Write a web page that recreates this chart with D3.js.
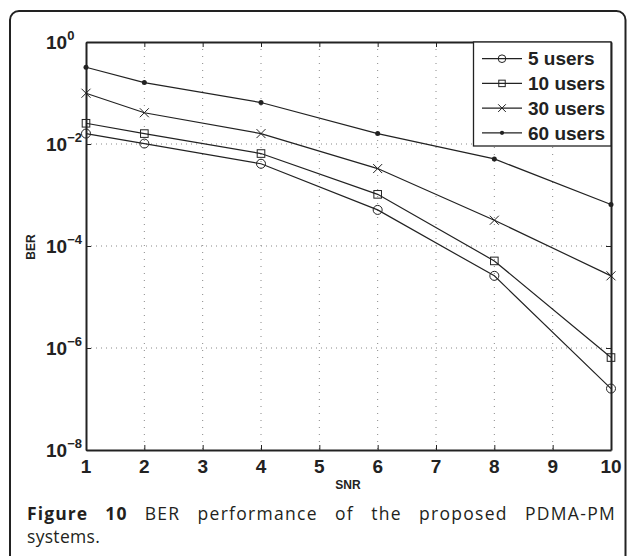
<!DOCTYPE html>
<html>
<head>
<meta charset="utf-8">
<script src="https://cdn.jsdelivr.net/npm/d3@7"></script>
<style>
  html, body { margin: 0; padding: 0; background: #fff; }
  svg { display: block; }
</style>
</head>
<body>
<svg id="chart" width="627" height="556"></svg>
<script>
// ---- data ----
const snr = [1, 2, 4, 6, 8, 10];
const seriesNames = ["5 users", "10 users", "30 users", "60 users"];
const markers = ["circle", "square", "cross", "dot"];
const ber5  = [0.016, 0.0102, 0.0041, 5.1e-4, 2.6e-5, 1.6e-7];
const ber10 = [0.0255, 0.016, 0.0065, 1.03e-3, 5.1e-5, 6.5e-7];
const ber30 = [0.099, 0.041, 0.016, 3.3e-3, 3.2e-4, 2.6e-5];
const ber60 = [0.32, 0.16, 0.065, 0.016, 5.1e-3, 6.5e-4];
const xTicks = [1, 2, 3, 4, 5, 6, 7, 8, 9, 10];
const yTickExps = [0, -2, -4, -6, -8];
const captionBold = ["Figure", "10"];
const captionLine1 = ["BER", "performance", "of", "the", "proposed", "PDMA-PM"];
const captionLine2 = "systems.";

const allSeries = [ber5, ber10, ber30, ber60];
const ink = "#222";

const svg = d3.select("#chart");
const m = { left: 86, right: 611, top: 42, bottom: 450 };

const x = d3.scaleLinear().domain([1, 10]).range([m.left, m.right]);
const y = d3.scaleLog().domain([1e-8, 1]).range([m.bottom, m.top]);

// card border
svg.append("rect").attr("x", 10).attr("y", 11).attr("width", 615.5).attr("height", 620)
  .attr("rx", 9).attr("fill", "none").attr("stroke", ink).attr("stroke-width", 2);

// grid
const grid = svg.append("g");
grid.selectAll("line.vx").data(xTicks.slice(1, -1)).join("line")
  .attr("x1", d => x(d)).attr("x2", d => x(d)).attr("y1", m.top).attr("y2", m.bottom)
  .attr("stroke", "#888").attr("stroke-width", 1).attr("stroke-dasharray", "1,6");
grid.selectAll("line.hy").data(yTickExps.slice(1, -1)).join("line")
  .attr("x1", m.left).attr("x2", m.right).attr("y1", d => y(Math.pow(10, d))).attr("y2", d => y(Math.pow(10, d)))
  .attr("stroke", "#888").attr("stroke-width", 1).attr("stroke-dasharray", "1,4");

// axes via d3 axis (inward ticks)
const xAxisB = d3.axisBottom(x).tickValues(xTicks).tickSizeInner(-5).tickSizeOuter(0).tickFormat("");
const xAxisT = d3.axisTop(x).tickValues(xTicks).tickSizeInner(-5).tickSizeOuter(0).tickFormat("");
const yVals = yTickExps.map(e => Math.pow(10, e));
const yAxisL = d3.axisLeft(y).tickValues(yVals).tickSizeInner(-5).tickSizeOuter(0).tickFormat("");
const yAxisR = d3.axisRight(y).tickValues(yVals).tickSizeInner(-5).tickSizeOuter(0).tickFormat("");
function styleAxis(g) {
  g.selectAll("path.domain").attr("stroke", ink).attr("stroke-width", 2);
  g.selectAll(".tick line").attr("stroke", ink).attr("stroke-width", 1);
}
svg.append("g").attr("transform", `translate(0,${m.bottom})`).call(xAxisB).call(styleAxis);
svg.append("g").attr("transform", `translate(0,${m.top})`).call(xAxisT).call(styleAxis);
svg.append("g").attr("transform", `translate(${m.left},0)`).call(yAxisL).call(styleAxis);
svg.append("g").attr("transform", `translate(${m.right},0)`).call(yAxisR).call(styleAxis);

// x tick labels
svg.append("g").selectAll("text").data(xTicks).join("text")
  .attr("x", d => x(d)).attr("y", 473).attr("text-anchor", "middle")
  .attr("font-family", "Liberation Sans, Arial, sans-serif").attr("font-weight", "bold")
  .attr("font-size", 19).attr("fill", ink).text(d => d);

// y tick labels 10^e
const yl = svg.append("g").selectAll("text").data(yTickExps).join("text")
  .attr("x", 46).attr("y", d => y(Math.pow(10, d)) + 7)
  .attr("font-family", "Liberation Sans, Arial, sans-serif").attr("font-weight", "bold")
  .attr("font-size", 19).attr("fill", ink);
yl.append("tspan").text("10");
yl.append("tspan").attr("dy", -9).attr("font-size", 13).text(d => d === 0 ? "0" : "\u2212" + Math.abs(d));

// axis titles
svg.append("text").attr("x", 348).attr("y", 489).attr("text-anchor", "middle")
  .attr("font-family", "Liberation Sans, Arial, sans-serif").attr("font-weight", "bold")
  .attr("font-size", 12).attr("fill", ink).text("SNR");
svg.append("text").attr("transform", "translate(35,247) rotate(-90)").attr("text-anchor", "middle")
  .attr("font-family", "Liberation Sans, Arial, sans-serif").attr("font-weight", "bold")
  .attr("font-size", 12).attr("fill", ink).text("BER");

// marker drawing
function drawMarker(g, type, cx, cy, s) {
  if (type === "circle") {
    g.append("circle").attr("cx", cx).attr("cy", cy).attr("r", 4.5 * s)
      .attr("fill", "none").attr("stroke", ink).attr("stroke-width", 1);
  } else if (type === "square") {
    const h = 3.8 * s;
    g.append("rect").attr("x", cx - h).attr("y", cy - h).attr("width", 2 * h).attr("height", 2 * h)
      .attr("fill", "none").attr("stroke", ink).attr("stroke-width", 1);
  } else if (type === "cross") {
    const h = 4.5 * s;
    g.append("path").attr("d", `M${cx - h},${cy - h}L${cx + h},${cy + h}M${cx - h},${cy + h}L${cx + h},${cy - h}`)
      .attr("stroke", ink).attr("stroke-width", 1);
  } else {
    g.append("circle").attr("cx", cx).attr("cy", cy).attr("r", 2.5 * s).attr("fill", ink);
  }
}

const line = d3.line().x(d => x(d[0])).y(d => y(d[1]));
allSeries.forEach((vals, i) => {
  const pts = snr.map((s, j) => [s, vals[j]]);
  const g = svg.append("g");
  g.append("path").attr("d", line(pts)).attr("fill", "none").attr("stroke", ink).attr("stroke-width", 1.2);
  pts.forEach(p => drawMarker(g, markers[i], x(p[0]), y(p[1]), 1));
});

// legend
const lg = svg.append("g");
lg.append("rect").attr("x", 473.5).attr("y", 42).attr("width", 137.5).attr("height", 104)
  .attr("fill", "#fff").attr("stroke", ink).attr("stroke-width", 1.3);
seriesNames.forEach((name, i) => {
  const cy = 58.7 + i * 24.7;
  lg.append("line").attr("x1", 482).attr("x2", 522).attr("y1", cy).attr("y2", cy)
    .attr("stroke", ink).attr("stroke-width", 1.2);
  drawMarker(lg, markers[i], 502, cy, 0.85);
  lg.append("text").attr("x", 528).attr("y", cy + 6.7)
    .attr("font-family", "Liberation Sans, Arial, sans-serif").attr("font-weight", "bold")
    .attr("font-size", 19).attr("fill", ink).text(name);
});

// caption (justified first line)
const capFont = "Open Sans, Noto Sans, sans-serif";
const cap = svg.append("g").attr("font-family", capFont).attr("font-size", 17.5).attr("fill", "#231f20");
const words = captionBold.map(w => ({ w, b: true })).concat(captionLine1.map(w => ({ w, b: false })));
const nodes = words.map(o => cap.append("text").attr("y", 520).attr("font-weight", o.b ? "bold" : "normal")
  .attr("letter-spacing", o.b ? 1.1 : 1.3).text(o.w));
const widths = nodes.map(n => n.node().getComputedTextLength());
const x0 = 27, x1 = 616;
const gap = (x1 - x0 - d3.sum(widths)) / (nodes.length - 1);
let cx = x0;
nodes.forEach((n, i) => { n.attr("x", cx); cx += widths[i] + gap; });
cap.append("text").attr("x", x0).attr("y", 543).attr("letter-spacing", 0.3).text(captionLine2);
</script>
</body>
</html>
